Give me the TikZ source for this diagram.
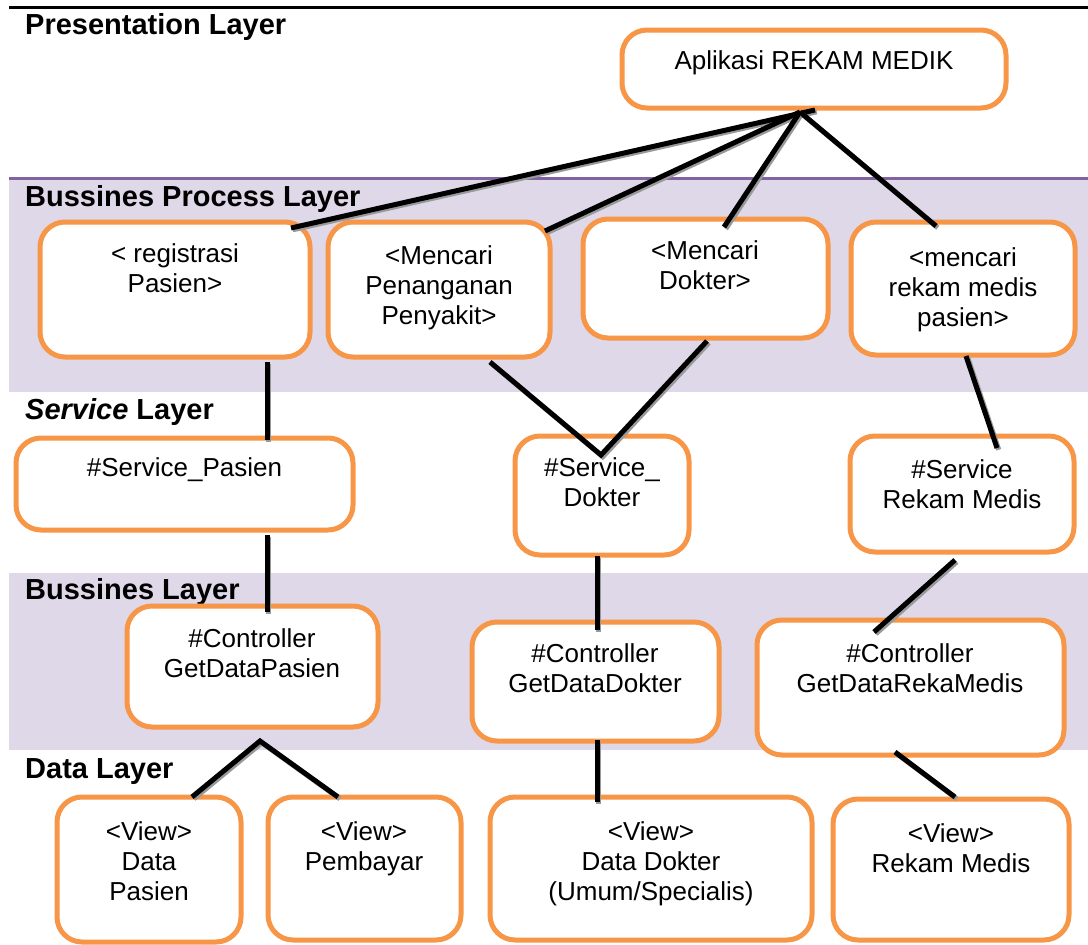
\documentclass[tikz,border=0pt]{standalone}
\usepackage{fontspec}
\setmainfont{Liberation Sans}
\usetikzlibrary{fit}
\definecolor{orng}{HTML}{F79646}
\definecolor{lav}{HTML}{DFD8E8}
\definecolor{purp}{HTML}{8064A2}
\newcommand{\ml}[1]{\begin{tabular}[t]{@{}c@{}}#1\end{tabular}}
\newcommand{\cn}[1]{\draw[shad] #1; \draw[conn] #1;}
\begin{document}
\begin{tikzpicture}[x=1pt,y=-1pt,
  box/.style={draw=orng, line width=5pt, fill=white, rounded corners=25pt, inner sep=0pt},
  txt/.style={anchor=base, inner sep=0pt, font=\fontsize{26}{30}\selectfont},
  head/.style={anchor=base west, inner sep=0pt, font=\fontsize{29}{33}\selectfont\bfseries},
  conn/.style={draw=black, line width=5pt},
  shad/.style={draw=black!40, line width=5pt, transform canvas={shift={(1.8pt,-1.8pt)}}}]
\useasboundingbox (0,0) rectangle (1088,945);
% bands
\fill[lav] (9,178) rectangle (1088,392);
\draw[purp, line width=3pt] (9,178) -- (1088,178);
\fill[lav] (9,573) rectangle (1088,750);
\draw[line width=3pt] (9,7) -- (1088,7);
% headings
\node[head] (h1) at (25,34) {Presentation Layer};
\node[head] (h2) at (25,206) {Bussines Process Layer};
\node[head] (h3) at (25,419) {\textit{Service} Layer};
\node[head] (h4) at (25,599) {Bussines Layer};
\node[head] (h5) at (25,778) {Data Layer};
% boxes
\node[box, fit={(622,30) (1006,108)}] (app) {};
\node[box, fit={(40,222) (310,357)}] (reg) {};
\node[box, fit={(328,222) (550,357)}] (pen) {};
\node[box, fit={(583,219) (828,338)}] (dok) {};
\node[box, fit={(851,222) (1075,355)}] (rek) {};
\node[box, fit={(16,438) (353,530)}] (svp) {};
\node[box, fit={(515,436) (689,555)}] (svd) {};
\node[box, fit={(850,436) (1074,552)}] (svr) {};
\node[box, fit={(127,606) (378,727)}] (cp) {};
\node[box, fit={(472,622) (719,741)}] (cd) {};
\node[box, fit={(757,620) (1064,755)}] (cr) {};
\node[box, fit={(57,797) (241,942)}] (vdp) {};
\node[box, fit={(268,797) (461,940)}] (vpb) {};
\node[box, fit={(490,797) (812,940)}] (vdd) {};
\node[box, fit={(833,799) (1069,940)}] (vrm) {};
% texts
\node[txt] (tapp) at (814,69) {\ml{Aplikasi REKAM MEDIK}};
\node[txt] (treg) at (175,262) {\ml{< registrasi\\Pasien>}};
\node[txt] (tpen) at (439,264) {\ml{<Mencari\\Penanganan\\Penyakit>}};
\node[txt] (tdok) at (705,259) {\ml{<Mencari\\Dokter>}};
\node[txt] (trek) at (963,266) {\ml{<mencari\\rekam medis\\pasien>}};
\node[txt] (tsvp) at (184.5,476) {\ml{\#Service\_Pasien}};
\node[txt] (tsvd) at (602,476) {\ml{\#Service\_\\Dokter}};
\node[txt] (tsvr) at (962,478) {\ml{\#Service\\Rekam Medis}};
\node[txt] (tcp) at (252,647) {\ml{\#Controller\\GetDataPasien}};
\node[txt] (tcd) at (595,662) {\ml{\#Controller\\GetDataDokter}};
\node[txt] (tcr) at (910,662) {\ml{\#Controller\\GetDataRekaMedis}};
\node[txt] (tvdp) at (149,840) {\ml{<View>\\Data\\Pasien}};
\node[txt] (tvpb) at (364,840) {\ml{<View>\\Pembayar}};
\node[txt] (tvdd) at (651,840) {\ml{<View>\\Data Dokter\\(Umum/Specialis)}};
\node[txt] (tvrm) at (951,842) {\ml{<View>\\Rekam Medis}};
% connector end points
\coordinate (apR) at (815,110);
\coordinate (ap) at (800,112);
\coordinate (regT) at (291,228);
\coordinate (penT) at (545,231);
\coordinate (dokT) at (724,227);
\coordinate (rekT) at (936,226);
\coordinate (regB) at (267,362);
\coordinate (svpT) at (267,440);
\coordinate (penB) at (490,362);
\coordinate (dokB) at (707,341);
\coordinate (svdT) at (601,455);
\coordinate (rekB) at (966,356);
\coordinate (svrT) at (997,448);
\coordinate (svpB) at (267,535);
\coordinate (cpT) at (267,612);
\coordinate (svdB) at (597,556);
\coordinate (cdT) at (597,630);
\coordinate (svrB) at (955,560);
\coordinate (crT) at (874,632);
\coordinate (cpB) at (260,741);
\coordinate (vdpT) at (192,797);
\coordinate (vpbT) at (338,797);
\coordinate (cdB) at (597,740);
\coordinate (vddT) at (597,802);
\coordinate (crB) at (895,752);
\coordinate (vrmT) at (955,797);
% connectors
\cn{(apR) -- (regT)}
\cn{(ap) -- (penT)}
\cn{(ap) -- (dokT)}
\cn{(ap) -- (rekT)}
\cn{(regB) -- (svpT)}
\cn{(penB) -- (svdT) -- (dokB)}
\cn{(rekB) -- (svrT)}
\cn{(svpB) -- (cpT)}
\cn{(svdB) -- (cdT)}
\cn{(svrB) -- (crT)}
\cn{(vdpT) -- (cpB) -- (vpbT)}
\cn{(cdB) -- (vddT)}
\cn{(crB) -- (vrmT)}
\end{tikzpicture}
\end{document}
